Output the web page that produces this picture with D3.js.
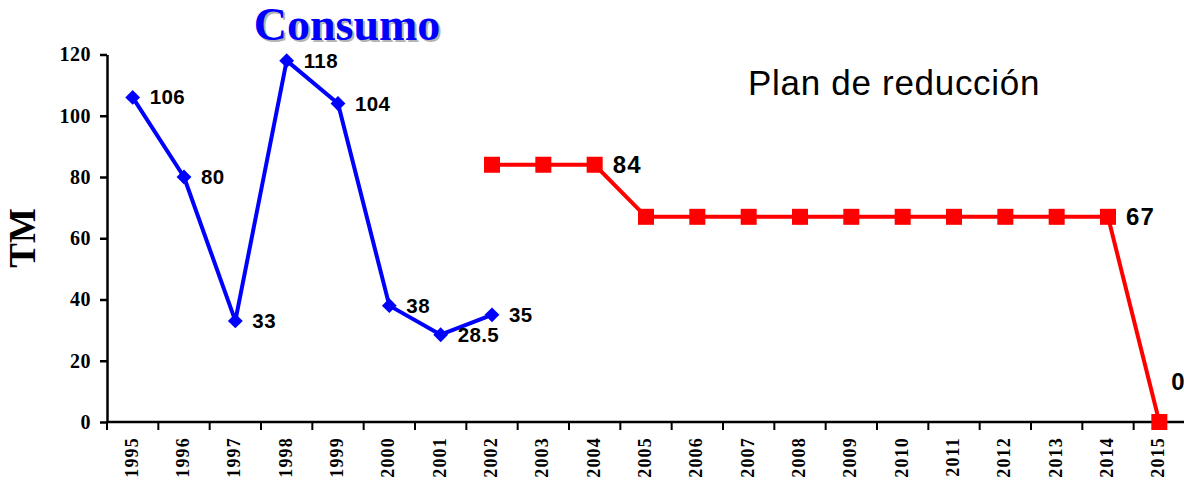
<!DOCTYPE html>
<html>
<head>
<meta charset="utf-8">
<script src="https://cdn.jsdelivr.net/npm/d3@7"></script>
<style>
  body { margin: 0; background: #fff; }
  svg { display: block; }
</style>
</head>
<body>
<div id="chart"></div>
<script>
// data
var years = ["1995","1996","1997","1998","1999","2000","2001","2002","2003","2004",
             "2005","2006","2007","2008","2009","2010","2011","2012","2013","2014","2015"];
var consumoYears = ["1995","1996","1997","1998","1999","2000","2001","2002"];
var consumoValues = [106, 80, 33, 118, 104, 38, 28.5, 35];
var planYears = ["2002","2003","2004","2005","2006","2007","2008","2009","2010",
                 "2011","2012","2013","2014","2015"];
var planValues = [84, 84, 84, 67, 67, 67, 67, 67, 67, 67, 67, 67, 67, 0];
var planLabelYears = ["2004", "2014", "2015"];
var yTicks = [0, 20, 40, 60, 80, 100, 120];

var W = 1184, H = 482;
var serif = "'Liberation Serif', 'Times New Roman', serif";
var sans = "'Liberation Sans', Arial, sans-serif";

var svg = d3.select("#chart").append("svg")
  .attr("width", W)
  .attr("height", H);

var x = d3.scaleBand()
  .domain(years)
  .range([107, 1185])
  .padding(0);

var y = d3.scaleLinear()
  .domain([0, 120])
  .range([422, 54.5]);

// y axis
var yAxis = svg.append("g")
  .attr("transform", "translate(107,0)")
  .call(d3.axisLeft(y).tickValues(yTicks).tickSize(7).tickSizeOuter(0).tickPadding(9));
yAxis.selectAll("path, line").attr("stroke", "#000").attr("stroke-width", 2.5);
yAxis.selectAll("text")
  .style("font-family", serif)
  .style("font-weight", "bold")
  .style("font-size", "20px")
  .style("letter-spacing", "0.5px")
  .attr("fill", "#000");

// x axis: line + boundary ticks + rotated labels at band centers
svg.append("line")
  .attr("x1", 106).attr("x2", W)
  .attr("y1", y(0)).attr("y2", y(0))
  .attr("stroke", "#000").attr("stroke-width", 2.5);

svg.append("g").selectAll("line")
  .data(years)
  .enter().append("line")
  .attr("x1", function(d) { return x(d); })
  .attr("x2", function(d) { return x(d); })
  .attr("y1", y(0))
  .attr("y2", y(0) + 8)
  .attr("stroke", "#000").attr("stroke-width", 2);

svg.append("g").selectAll("text")
  .data(years)
  .enter().append("text")
  .attr("transform", function(d) {
    return "translate(" + (x(d) + x.bandwidth() / 2 + 5) + "," + 437 + ") rotate(-90)";
  })
  .attr("text-anchor", "end")
  .style("font-family", serif)
  .style("font-weight", "bold")
  .style("font-size", "18px")
  .style("letter-spacing", "1.2px")
  .attr("fill", "#000")
  .text(function(d) { return d; });

var cx = function(d) { return x(d) + x.bandwidth() / 2; };

var consumo = consumoYears.map(function(d, i) { return {year: d, value: consumoValues[i]}; });
var plan = planYears.map(function(d, i) { return {year: d, value: planValues[i]}; });

var line = d3.line()
  .x(function(d) { return cx(d.year); })
  .y(function(d) { return y(d.value); });

// consumo series
svg.append("path")
  .datum(consumo)
  .attr("d", line)
  .attr("fill", "none")
  .attr("stroke", "#0000ff")
  .attr("stroke-width", 4)
  .attr("stroke-linejoin", "round");

svg.append("g").selectAll("path")
  .data(consumo)
  .enter().append("path")
  .attr("d", d3.symbol().type(d3.symbolDiamond2).size(140))
  .attr("transform", function(d) { return "translate(" + cx(d.year) + "," + y(d.value) + ")"; })
  .attr("fill", "#0000ff");

svg.append("g").selectAll("text")
  .data(consumo)
  .enter().append("text")
  .attr("x", function(d) { return cx(d.year) + 17; })
  .attr("y", function(d) { return y(d.value) + 7; })
  .style("font-family", sans)
  .style("font-weight", "bold")
  .style("font-size", "20.5px")
  .style("letter-spacing", "0.4px")
  .attr("fill", "#000")
  .text(function(d) { return d.value; });

// plan series
svg.append("path")
  .datum(plan)
  .attr("d", line)
  .attr("fill", "none")
  .attr("stroke", "#ff0000")
  .attr("stroke-width", 4);

svg.append("g").selectAll("rect")
  .data(plan)
  .enter().append("rect")
  .attr("x", function(d) { return cx(d.year) - 8; })
  .attr("y", function(d) { return y(d.value) - 8; })
  .attr("width", 16)
  .attr("height", 16)
  .attr("fill", "#ff0000");

svg.append("g").selectAll("text")
  .data(plan.filter(function(d) { return planLabelYears.indexOf(d.year) >= 0; }))
  .enter().append("text")
  .attr("x", function(d) { return d.value === 0 ? cx(d.year) + 12 : cx(d.year) + 18; })
  .attr("y", function(d) { return d.value === 0 ? y(d.value) - 32 : y(d.value) + 8; })
  .style("font-family", sans)
  .style("font-weight", "bold")
  .style("font-size", "24px")
  .style("letter-spacing", "1.2px")
  .attr("fill", "#000")
  .text(function(d) { return d.value; });

// titles
svg.append("text")
  .attr("x", 349).attr("y", 42)
  .attr("text-anchor", "middle")
  .style("font-family", serif)
  .style("font-weight", "bold")
  .style("font-size", "46px")
  .attr("fill", "#b4b4b4")
  .text("Consumo");
svg.append("text")
  .attr("x", 347).attr("y", 40)
  .attr("text-anchor", "middle")
  .style("font-family", serif)
  .style("font-weight", "bold")
  .style("font-size", "46px")
  .attr("fill", "#0000ff")
  .text("Consumo");

svg.append("text")
  .attr("x", 748).attr("y", 95)
  .style("font-family", sans)
  .style("font-size", "35px")
  .style("letter-spacing", "0.7px")
  .attr("fill", "#000")
  .text("Plan de reducción");

svg.append("text")
  .attr("transform", "translate(35,238) rotate(-90)")
  .attr("text-anchor", "middle")
  .style("font-family", serif)
  .style("font-weight", "bold")
  .style("font-size", "37px")
  .attr("fill", "#000")
  .text("TM");
</script>
</body>
</html>
